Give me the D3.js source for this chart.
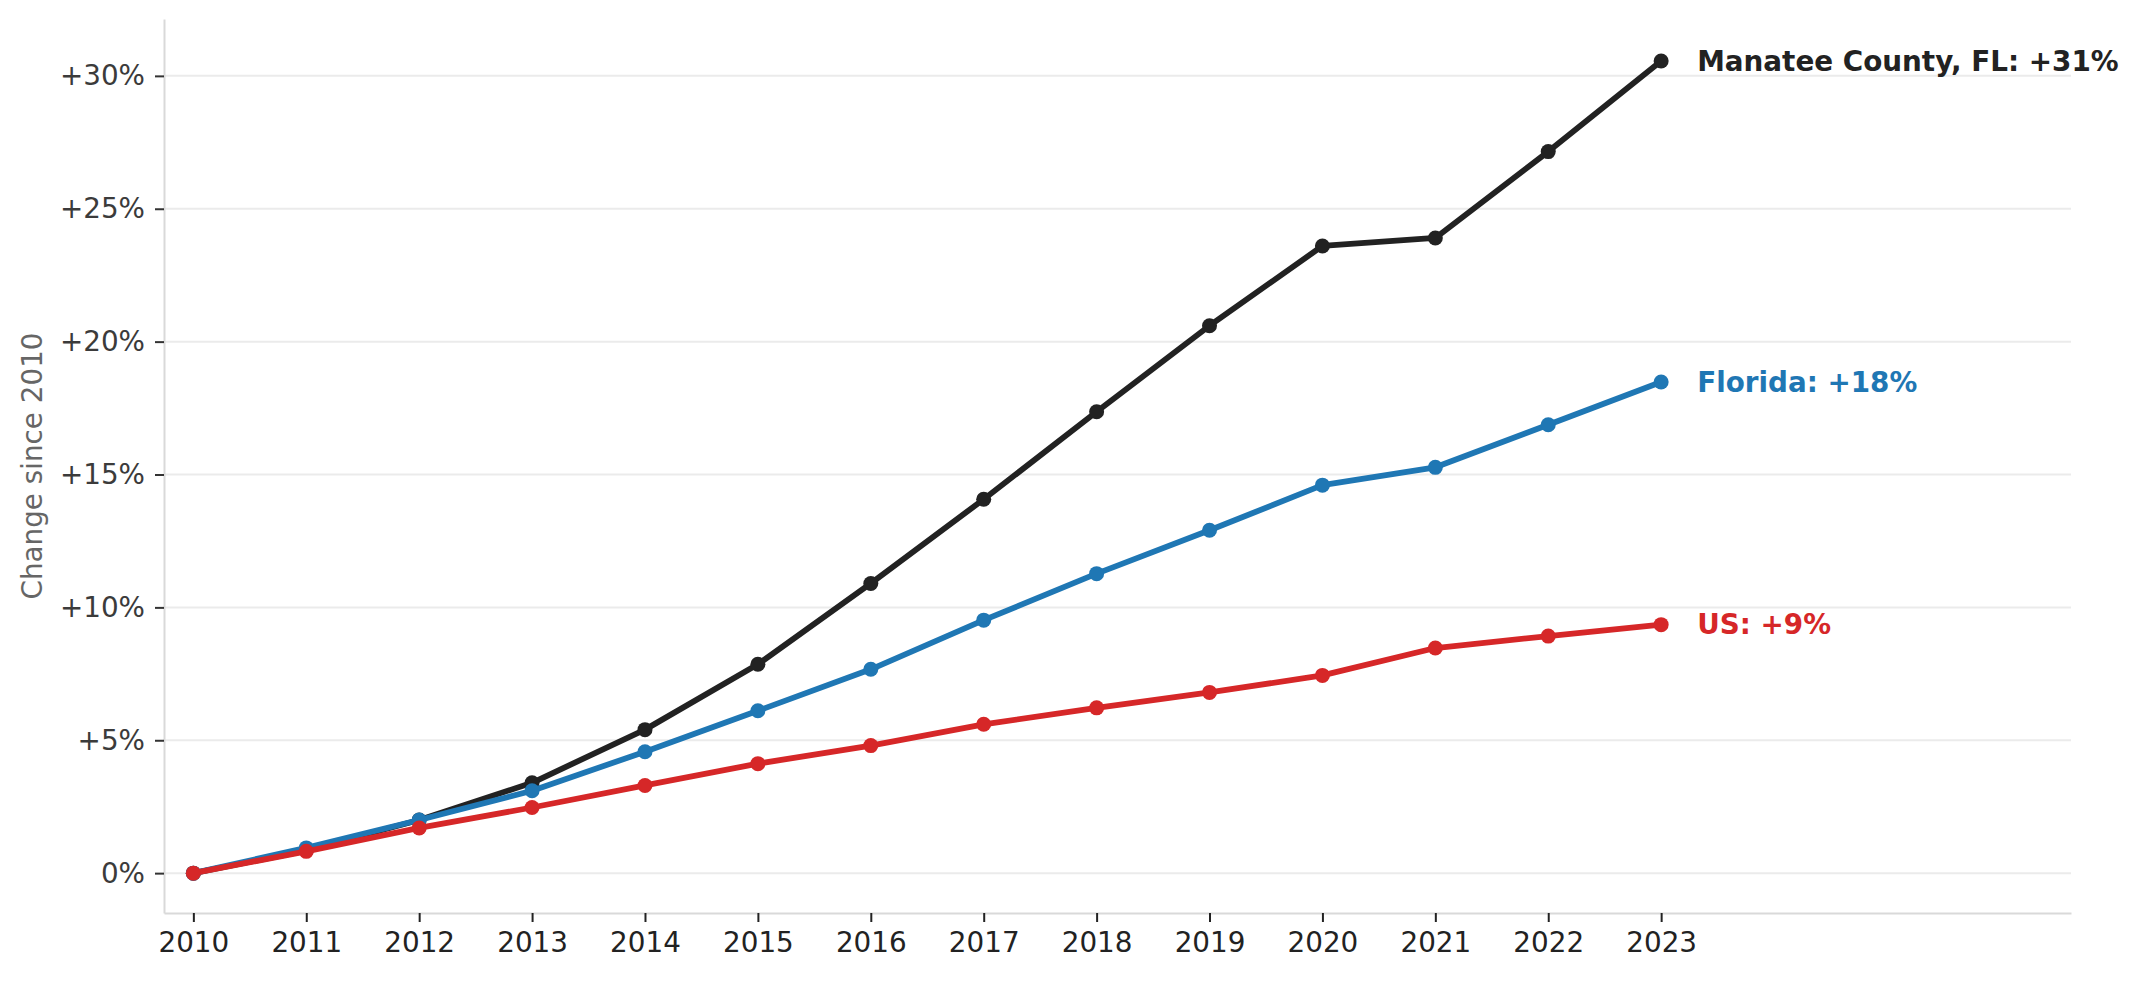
<!DOCTYPE html>
<html>
<head>
<meta charset="utf-8">
<script src="https://cdn.jsdelivr.net/npm/d3@7"></script>
<style>
  body { margin: 0; background: #fff; }
  text { font-family: "DejaVu Sans", sans-serif; }
</style>
</head>
<body>
<svg id="chart" width="2137" height="981"></svg>
<script>
var years = [2010, 2011, 2012, 2013, 2014, 2015, 2016, 2017, 2018, 2019, 2020, 2021, 2022, 2023];
var manatee = [0, 0.85, 2.0, 3.4, 5.4, 7.86, 10.9, 14.07, 17.36, 20.6, 23.6, 23.9, 27.15, 30.56];
var florida = [0, 0.95, 2.0, 3.1, 4.57, 6.11, 7.67, 9.52, 11.27, 12.9, 14.6, 15.27, 16.87, 18.48];
var us = [0, 0.82, 1.7, 2.47, 3.3, 4.12, 4.8, 5.6, 6.22, 6.8, 7.44, 8.47, 8.92, 9.35];
var yTicks = [0, 5, 10, 15, 20, 25, 30];
var seriesNames = ["Manatee County, FL", "Florida", "US"];
var seriesColors = ["#222222", "#1f77b4", "#d62728"];

var series = [manatee, florida, us].map(function(vals, i) {
  return { name: seriesNames[i], color: seriesColors[i], values: vals };
});

var svg = d3.select("#chart");
var plotLeft = 164, plotRight = 2071, plotTop = 19, plotBottom = 913;

var x = d3.scaleLinear().domain([2009.74, 2026.63]).range([plotLeft, plotRight]);
var y = d3.scaleLinear().domain([-1.5, 32.14]).range([plotBottom, plotTop]);

// grid
svg.append("g")
  .selectAll("line")
  .data(yTicks)
  .join("line")
    .attr("x1", plotLeft).attr("x2", plotRight)
    .attr("y1", function(d) { return y(d); })
    .attr("y2", function(d) { return y(d); })
    .attr("stroke", "#ebebeb")
    .attr("stroke-width", 2);

// axes
var yAxis = svg.append("g")
    .attr("transform", "translate(" + plotLeft + ",0)")
    .call(d3.axisLeft(y).tickValues(yTicks).tickSize(9).tickSizeOuter(0).tickPadding(10)
      .tickFormat(function(d) { return d === 0 ? "0%" : "+" + d + "%"; }));
yAxis.select(".domain").attr("stroke", "#d9d9d9").attr("stroke-width", 2);
yAxis.selectAll(".tick line").attr("stroke", "#333").attr("stroke-width", 2);
yAxis.selectAll(".tick text").attr("fill", "#3b3b3b").style("font-size", "27.8px");

var xAxis = svg.append("g")
    .attr("transform", "translate(0," + plotBottom + ")")
    .call(d3.axisBottom(x).tickValues(years).tickSize(9).tickSizeOuter(0).tickPadding(10)
      .tickFormat(d3.format("d")));
xAxis.select(".domain").attr("stroke", "#d9d9d9").attr("stroke-width", 2);
xAxis.selectAll(".tick line").attr("stroke", "#222").attr("stroke-width", 2);
xAxis.selectAll(".tick text").attr("fill", "#222").style("font-size", "27.8px");

svg.append("text")
    .attr("transform", "translate(42," + (plotTop + plotBottom) / 2 + ") rotate(-90)")
    .attr("text-anchor", "middle")
    .attr("fill", "#666")
    .style("font-size", "27.8px")
    .text("Change since 2010");

var line = d3.line()
    .x(function(d, i) { return x(years[i]); })
    .y(function(d) { return y(d); });

var groups = svg.append("g")
  .selectAll("g")
  .data(series)
  .join("g");

groups.append("path")
    .attr("d", function(d) { return line(d.values); })
    .attr("fill", "none")
    .attr("stroke", function(d) { return d.color; })
    .attr("stroke-width", 5.8)
    .attr("stroke-linejoin", "round");

groups.selectAll("circle")
  .data(function(d) { return d.values.map(function(v, i) { return { v: v, i: i, color: d.color }; }); })
  .join("circle")
    .attr("cx", function(d) { return x(years[d.i]); })
    .attr("cy", function(d) { return y(d.v); })
    .attr("r", 7.5)
    .attr("fill", function(d) { return d.color; });

// end labels
groups.append("text")
    .attr("x", x(years[years.length - 1]) + 36)
    .attr("y", function(d) { return y(d.values[d.values.length - 1]); })
    .attr("dy", "0.35em")
    .attr("fill", function(d) { return d.color; })
    .style("font-size", "27.8px")
    .style("font-weight", "bold")
    .text(function(d) { return d.name + ": +" + Math.round(d.values[d.values.length - 1]) + "%"; });
</script>
</body>
</html>
